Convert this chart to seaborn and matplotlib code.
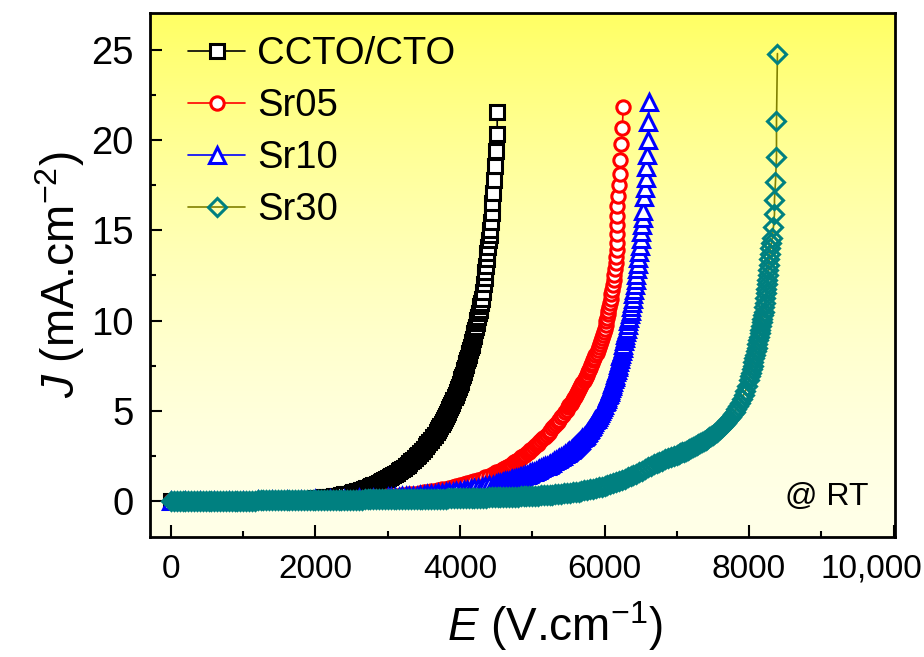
import numpy as np
import pandas as pd
import matplotlib
matplotlib.use("Agg")
import matplotlib.pyplot as plt
import seaborn as sns
from matplotlib.transforms import ScaledTranslation

# ---------------- data (E in V/cm, J in mA/cm^2) ----------------
labels = ["CCTO/CTO", "Sr05", "Sr10", "Sr30"]

ccto_EJ = [
    (0, 0.00), (200, 0.01), (400, 0.01), (600, 0.02), (800, 0.02), (1000, 0.03), (1200, 0.04),
    (1400, 0.06), (1600, 0.08), (1800, 0.11), (1900, 0.13),
    (2000, 0.15), (2050, 0.17), (2100, 0.19), (2150, 0.21), (2200, 0.24), (2250, 0.27),
    (2300, 0.30), (2350, 0.34), (2400, 0.38), (2450, 0.41),
    (2500, 0.45), (2525, 0.48), (2550, 0.51), (2575, 0.54), (2600, 0.57), (2625, 0.60),
    (2650, 0.63), (2675, 0.66), (2700, 0.70), (2725, 0.74), (2750, 0.78), (2775, 0.82),
    (2800, 0.86), (2825, 0.90), (2850, 0.95), (2875, 1.00), (2900, 1.05), (2925, 1.10),
    (2950, 1.16), (2975, 1.21), (3000, 1.27), (3025, 1.32), (3050, 1.38), (3075, 1.44),
    (3100, 1.50), (3125, 1.57), (3150, 1.64), (3175, 1.71), (3200, 1.78), (3225, 1.85),
    (3250, 1.93), (3275, 2.01), (3300, 2.10), (3325, 2.19), (3350, 2.28), (3375, 2.37),
    (3400, 2.47), (3425, 2.57), (3450, 2.67), (3475, 2.78), (3500, 2.90), (3525, 3.02),
    (3550, 3.14), (3575, 3.27), (3600, 3.40), (3625, 3.53), (3650, 3.66), (3675, 3.80),
    (3700, 3.95), (3715, 4.05), (3730, 4.15), (3745, 4.25), (3760, 4.36), (3775, 4.47),
    (3790, 4.58), (3805, 4.69), (3820, 4.82), (3835, 4.94), (3850, 5.07), (3865, 5.20),
    (3880, 5.32), (3895, 5.45), (3910, 5.59), (3925, 5.74), (3940, 5.88), (3955, 6.03),
    (3970, 6.18), (3985, 6.34), (4000, 6.50), (4010, 6.62), (4020, 6.74), (4030, 6.87),
    (4040, 7.00), (4050, 7.12), (4060, 7.25), (4070, 7.38), (4080, 7.52), (4090, 7.66),
    (4100, 7.80), (4110, 7.94), (4120, 8.08), (4130, 8.22), (4140, 8.37), (4150, 8.52),
    (4160, 8.67), (4170, 8.82), (4180, 8.98), (4190, 9.14), (4200, 9.30), (4210, 9.48),
    (4220, 9.66), (4230, 9.84), (4240, 10.02), (4250, 10.20), (4260, 10.40), (4270, 10.60),
    (4280, 10.80), (4290, 11.00), (4300, 11.20), (4315, 11.60), (4330, 12.00), (4340, 12.35),
    (4350, 12.70), (4360, 13.05), (4370, 13.40), (4380, 13.75), (4390, 14.10), (4400, 14.45),
    (4410, 14.75), (4418, 15.00), (4432, 15.47), (4446, 15.97), (4446, 16.50), (4460, 17.07),
    (4474, 17.80), (4487, 18.57), (4501, 19.40), (4515, 20.34), (4515, 21.56),
]

sr05_EJ = [
    (0, 0.00), (200, 0.00), (400, 0.01), (600, 0.01), (800, 0.02), (1000, 0.02), (1200, 0.03),
    (1400, 0.04), (1600, 0.05), (1800, 0.06), (2000, 0.08), (2200, 0.10), (2400, 0.12),
    (2600, 0.15), (2800, 0.19),
    (3000, 0.25), (3050, 0.26), (3100, 0.28), (3150, 0.30), (3200, 0.32), (3250, 0.34),
    (3300, 0.36), (3350, 0.38), (3400, 0.41), (3450, 0.44), (3500, 0.47), (3550, 0.50),
    (3600, 0.53), (3650, 0.56), (3700, 0.60), (3750, 0.64), (3800, 0.68), (3850, 0.72),
    (3900, 0.77), (3950, 0.82), (4000, 0.87), (4050, 0.92), (4100, 0.98), (4150, 1.04),
    (4200, 1.10), (4250, 1.17), (4300, 1.24), (4350, 1.32), (4400, 1.40), (4450, 1.49),
    (4500, 1.58), (4525, 1.63), (4550, 1.68), (4575, 1.73), (4600, 1.78), (4625, 1.83),
    (4650, 1.89), (4675, 1.95), (4700, 2.01), (4725, 2.07), (4750, 2.14), (4775, 2.21),
    (4800, 2.28), (4825, 2.35), (4850, 2.42), (4875, 2.49), (4900, 2.57), (4925, 2.65),
    (4950, 2.73), (4975, 2.81), (5000, 2.90), (5025, 2.99), (5050, 3.08), (5075, 3.17),
    (5100, 3.27), (5125, 3.37), (5150, 3.47), (5175, 3.57), (5200, 3.68), (5225, 3.79),
    (5250, 3.90), (5275, 4.02), (5300, 4.14), (5325, 4.26), (5350, 4.38), (5375, 4.51),
    (5400, 4.64), (5425, 4.78), (5450, 4.92), (5475, 5.06), (5500, 5.21), (5515, 5.30),
    (5530, 5.39), (5545, 5.49), (5560, 5.58), (5575, 5.68), (5590, 5.78), (5605, 5.88),
    (5620, 5.99), (5635, 6.09), (5650, 6.20), (5665, 6.31), (5680, 6.42), (5695, 6.53),
    (5710, 6.65), (5725, 6.76), (5740, 6.88), (5755, 7.00), (5770, 7.13), (5785, 7.25),
    (5800, 7.38), (5815, 7.51), (5830, 7.65), (5845, 7.79), (5860, 7.93), (5875, 8.07),
    (5890, 8.22), (5905, 8.37), (5920, 8.53), (5935, 8.69), (5950, 8.85), (5965, 9.02),
    (5980, 9.20), (5995, 9.38), (6005, 9.55), (6015, 9.75), (6025, 9.95), (6035, 10.15),
    (6045, 10.35), (6055, 10.55), (6065, 10.75), (6075, 10.95), (6085, 11.20), (6095, 11.45),
    (6105, 11.70), (6115, 11.95), (6125, 12.25), (6135, 12.55), (6145, 12.85), (6155, 13.20),
    (6163, 13.55), (6170, 13.90), (6177, 14.30), (6177, 14.80), (6177, 15.30), (6177, 15.80),
    (6177, 16.35), (6191, 16.90), (6205, 17.50), (6218, 18.10), (6218, 18.90), (6232, 19.80),
    (6246, 20.70), (6260, 21.85),
]

sr10_EJ = [
    (0, 0.00), (200, 0.00), (400, 0.01), (600, 0.01), (800, 0.02), (1000, 0.02), (1200, 0.03),
    (1400, 0.04), (1600, 0.05), (1800, 0.06), (2000, 0.08), (2200, 0.10), (2400, 0.12),
    (2600, 0.14), (2800, 0.17),
    (3000, 0.20), (3050, 0.21), (3100, 0.22), (3150, 0.23), (3200, 0.25), (3250, 0.26),
    (3300, 0.27), (3350, 0.29), (3400, 0.30), (3450, 0.32), (3500, 0.34), (3550, 0.36),
    (3600, 0.38), (3650, 0.40), (3700, 0.42), (3750, 0.44), (3800, 0.47), (3850, 0.49),
    (3900, 0.52), (3950, 0.54), (4000, 0.57), (4050, 0.60), (4100, 0.63), (4150, 0.66),
    (4200, 0.70), (4250, 0.73), (4300, 0.77), (4350, 0.81), (4400, 0.86), (4450, 0.90),
    (4500, 0.95), (4525, 0.97), (4550, 1.00), (4575, 1.02), (4600, 1.05), (4625, 1.08),
    (4650, 1.10), (4675, 1.13), (4700, 1.16), (4725, 1.19), (4750, 1.22), (4775, 1.25),
    (4800, 1.28), (4825, 1.31), (4850, 1.35), (4875, 1.38), (4900, 1.42), (4925, 1.46),
    (4950, 1.50), (4975, 1.54), (5000, 1.58), (5025, 1.62), (5050, 1.67), (5075, 1.71),
    (5100, 1.76), (5125, 1.81), (5150, 1.86), (5175, 1.91), (5200, 1.96), (5225, 2.01),
    (5250, 2.07), (5275, 2.13), (5300, 2.19), (5325, 2.25), (5350, 2.31), (5375, 2.37),
    (5400, 2.44), (5425, 2.51), (5450, 2.58), (5475, 2.65), (5500, 2.73), (5515, 2.78),
    (5530, 2.82), (5545, 2.87), (5560, 2.92), (5575, 2.97), (5590, 3.03), (5605, 3.09),
    (5620, 3.15), (5635, 3.21), (5650, 3.27), (5665, 3.33), (5680, 3.40), (5695, 3.47),
    (5710, 3.54), (5725, 3.61), (5740, 3.68), (5755, 3.76), (5770, 3.84), (5785, 3.92),
    (5800, 4.00), (5815, 4.09), (5830, 4.18), (5845, 4.27), (5860, 4.36), (5875, 4.46),
    (5890, 4.56), (5905, 4.66), (5920, 4.76), (5935, 4.87), (5950, 4.98), (5965, 5.10),
    (5980, 5.22), (5995, 5.34), (6010, 5.47), (6020, 5.56), (6030, 5.66), (6040, 5.75),
    (6050, 5.85), (6060, 5.95), (6070, 6.05), (6080, 6.16), (6090, 6.27), (6100, 6.38),
    (6110, 6.50), (6120, 6.62), (6130, 6.74), (6140, 6.87), (6150, 7.00), (6160, 7.13),
    (6170, 7.27), (6180, 7.41), (6190, 7.55), (6200, 7.70), (6210, 7.85), (6220, 8.01),
    (6230, 8.17), (6240, 8.33), (6250, 8.50), (6260, 8.67), (6270, 8.84), (6280, 9.01),
    (6290, 9.18), (6300, 9.35), (6310, 9.55), (6320, 9.75), (6330, 9.95), (6340, 10.15),
    (6350, 10.35), (6360, 10.55), (6370, 10.75), (6380, 10.95), (6390, 11.20), (6400, 11.45),
    (6410, 11.70), (6420, 11.95), (6430, 12.25), (6440, 12.55), (6450, 12.85), (6460, 13.15),
    (6470, 13.45), (6480, 13.80), (6490, 14.15), (6500, 14.50), (6510, 14.90), (6520, 15.30),
    (6530, 15.70), (6538, 16.10), (6552, 16.85), (6566, 17.35), (6580, 17.90), (6580, 18.50),
    (6593, 19.20), (6607, 20.00), (6607, 21.00), (6620, 22.10),
]

sr30_EJ = [
    (0, 0.00), (40, 0.00), (80, 0.00), (120, 0.00), (160, 0.00), (200, 0.00), (240, 0.00),
    (280, 0.00), (320, 0.00), (360, 0.00), (400, 0.01), (440, 0.01), (480, 0.01), (520, 0.01),
    (560, 0.01), (600, 0.01), (640, 0.01), (680, 0.01), (720, 0.01), (760, 0.01), (800, 0.02),
    (840, 0.02), (880, 0.02), (920, 0.02), (960, 0.02), (1000, 0.02), (1040, 0.02), (1080, 0.02),
    (1120, 0.02), (1160, 0.02), (1200, 0.03), (1240, 0.03), (1280, 0.03), (1320, 0.03),
    (1360, 0.03), (1400, 0.03), (1440, 0.03), (1480, 0.03), (1520, 0.03), (1560, 0.03),
    (1600, 0.04), (1640, 0.04), (1680, 0.04), (1720, 0.04), (1760, 0.04), (1800, 0.04),
    (1840, 0.04), (1880, 0.04), (1920, 0.04), (1960, 0.04), (2000, 0.05), (2040, 0.05),
    (2080, 0.05), (2120, 0.05), (2160, 0.05), (2200, 0.06), (2240, 0.06), (2280, 0.06),
    (2320, 0.06), (2360, 0.06), (2400, 0.06), (2440, 0.07), (2480, 0.07), (2520, 0.07),
    (2560, 0.07), (2600, 0.07), (2640, 0.07), (2680, 0.08), (2720, 0.08), (2760, 0.08),
    (2800, 0.08), (2840, 0.08), (2880, 0.08), (2920, 0.09), (2960, 0.09), (3000, 0.09),
    (3040, 0.09), (3080, 0.09), (3120, 0.10), (3160, 0.10), (3200, 0.10), (3240, 0.10),
    (3280, 0.10), (3320, 0.11), (3360, 0.11), (3400, 0.11), (3440, 0.11), (3480, 0.11),
    (3520, 0.12), (3560, 0.12), (3600, 0.12), (3640, 0.12), (3680, 0.13), (3720, 0.13),
    (3760, 0.13), (3800, 0.13), (3840, 0.14), (3880, 0.14), (3920, 0.14), (3960, 0.15),
    (4000, 0.15), (4040, 0.15), (4080, 0.16), (4120, 0.16), (4160, 0.16), (4200, 0.17),
    (4240, 0.17), (4280, 0.17), (4320, 0.18), (4360, 0.18), (4400, 0.19), (4440, 0.19),
    (4480, 0.20), (4520, 0.20), (4560, 0.21), (4600, 0.21), (4640, 0.22), (4680, 0.22),
    (4720, 0.23), (4760, 0.23), (4800, 0.24), (4840, 0.25), (4880, 0.25), (4920, 0.26),
    (4960, 0.27), (5000, 0.28), (5040, 0.29), (5080, 0.30), (5120, 0.31), (5160, 0.32),
    (5200, 0.33), (5240, 0.34), (5280, 0.35), (5320, 0.37), (5360, 0.38), (5400, 0.40),
    (5440, 0.42), (5480, 0.44), (5520, 0.46), (5560, 0.48), (5600, 0.50), (5640, 0.52),
    (5680, 0.55), (5720, 0.58), (5760, 0.61), (5800, 0.64), (5840, 0.67), (5880, 0.71),
    (5920, 0.75), (5960, 0.79), (6000, 0.83), (6040, 0.88), (6080, 0.93), (6120, 0.99),
    (6160, 1.05), (6200, 1.11), (6240, 1.17), (6280, 1.24), (6320, 1.30), (6360, 1.37),
    (6400, 1.44), (6440, 1.51), (6480, 1.59), (6520, 1.67), (6560, 1.76), (6600, 1.86),
    (6640, 1.94), (6680, 2.02), (6720, 2.10), (6760, 2.17), (6800, 2.24), (6840, 2.31),
    (6880, 2.38), (6920, 2.44), (6960, 2.51), (7000, 2.57), (7025, 2.61), (7050, 2.65),
    (7075, 2.70), (7100, 2.74), (7125, 2.79), (7150, 2.83), (7175, 2.88), (7200, 2.93),
    (7225, 2.98), (7250, 3.03), (7275, 3.08), (7300, 3.14), (7325, 3.20), (7350, 3.26),
    (7375, 3.32), (7400, 3.38), (7425, 3.45), (7450, 3.52), (7475, 3.59), (7500, 3.67),
    (7525, 3.75), (7550, 3.83), (7575, 3.91), (7600, 4.00), (7625, 4.10), (7650, 4.20),
    (7675, 4.31), (7700, 4.42), (7725, 4.54), (7750, 4.67), (7775, 4.81), (7800, 4.95),
    (7825, 5.11), (7850, 5.27), (7875, 5.45), (7900, 5.65), (7925, 5.87), (7950, 6.10),
    (7975, 6.38), (8000, 6.70), (8012, 6.90), (8024, 7.10), (8036, 7.30), (8048, 7.50),
    (8060, 7.70), (8072, 7.90), (8084, 8.10), (8095, 8.30), (8106, 8.50), (8117, 8.70),
    (8128, 8.90), (8138, 9.10), (8148, 9.30), (8158, 9.50), (8167, 9.70), (8176, 9.90),
    (8185, 10.10), (8193, 10.30), (8201, 10.50), (8209, 10.75), (8217, 11.00), (8225, 11.25),
    (8232, 11.50), (8239, 11.75), (8246, 12.00), (8253, 12.25), (8260, 12.50), (8267, 12.80),
    (8274, 13.10), (8281, 13.40), (8288, 13.70), (8296, 14.00), (8310, 14.30), (8324, 14.60),
    (8338, 15.20), (8352, 15.90), (8352, 16.70), (8366, 17.70), (8380, 19.07), (8380, 21.06),
    (8393, 24.80),
]

x_ticks = [0, 2000, 4000, 6000, 8000, 10000]
x_tick_labels = ["0", "2000", "4000", "6000", "8000", "10,000"]
x_minor = [1000, 3000, 5000, 7000, 9000]
y_ticks = [0, 5, 10, 15, 20, 25]
y_minor = [2.5, 7.5, 12.5, 17.5, 22.5]

# ---------------- style ----------------
sns.set_theme(style="ticks")
plt.rcParams["font.family"] = ["Liberation Sans", "DejaVu Sans"]
plt.rcParams["mathtext.fontset"] = "custom"
plt.rcParams["mathtext.rm"] = "Liberation Sans"
plt.rcParams["mathtext.it"] = "Liberation Sans:italic"

fig = plt.figure(figsize=(9.24, 6.57), dpi=100)
fig.patch.set_facecolor("white")
ax = fig.add_axes([150 / 924, 1 - 537 / 657, 745 / 924, 524 / 657])

# background gradient (pale at bottom, yellow at top)
f = np.linspace(0, 1, 256)[:, None]          # 0 bottom -> 1 top
blue = (232 - 132 * (f ** 1.6)) / 255.0
grad = np.dstack([np.ones_like(f), np.ones_like(f), blue])
ax.imshow(grad, extent=[0, 1, 0, 1], transform=ax.transAxes, origin="lower",
          aspect="auto", zorder=0, interpolation="bilinear")

series = [
    (ccto_EJ, labels[0], "s", "black", "black", "white", 9.4),
    (sr05_EJ, labels[1], "o", "red", "red", "white", 9.6),
    (sr10_EJ, labels[2], "^", "blue", "blue", "white", 11.0),
    (sr30_EJ, labels[3], "D", "#808000", "#008080", "none", 8.8),
]
for i, (pts, lab, mk, lc, ec, fc, ms) in enumerate(series):
    df = pd.DataFrame(pts, columns=["E", "J"])
    sns.lineplot(data=df, x="E", y="J", ax=ax, estimator=None, sort=False,
                 color=lc, linewidth=1.2, marker=mk, markersize=ms,
                 markeredgecolor=ec, markerfacecolor=fc, markeredgewidth=2.2,
                 label=lab, zorder=3 + i)

ax.set_xlim(-290, 10020)
ax.set_ylim(-2.0, 27.05)
ax.set_xticks(x_ticks)
ax.set_xticklabels(x_tick_labels)
ax.set_yticks(y_ticks)
ax.set_xticks(x_minor, minor=True)
ax.set_yticks(y_minor, minor=True)
ax.tick_params(axis="both", which="major", direction="in", length=8.5, width=1.5,
               color="black", labelcolor="black")
ax.tick_params(axis="both", which="minor", direction="in", length=4.3, width=1.5,
               color="black")
ax.tick_params(axis="x", which="both", pad=12, top=False, labelsize=24)
ax.tick_params(axis="y", which="both", pad=12, right=False, labelsize=27.5)
for s in ax.spines.values():
    s.set_visible(True)
    s.set_linewidth(2.0)
    s.set_color("black")

# shift the last x tick label to the left so it stays inside the figure
lbl = ax.get_xticklabels()[-1]
lbl.set_transform(lbl.get_transform() + ScaledTranslation(-22 / 100, 0, fig.dpi_scale_trans))

ax.set_xlabel(r"$\mathit{E}$ (V.cm$^{-1}$)", fontsize=33, color="black")
ax.xaxis.set_label_coords(0.544, -0.118)
ax.set_ylabel(r"$\mathit{J}$ (mA.cm$^{-2}$)", fontsize=33, color="black")
ax.yaxis.set_label_coords(-0.085, 0.5)

ax.text(0.964, 0.076, "@ RT", transform=ax.transAxes, ha="right", va="center",
        fontsize=23, color="black", zorder=10)

leg = ax.legend(loc="upper left", bbox_to_anchor=(0.051, 0.956), frameon=False,
                fontsize=27.5, handlelength=1.5, handletextpad=0.3, labelspacing=0.42,
                borderpad=0, borderaxespad=0, numpoints=1)
for t in leg.get_texts():
    t.set_color("black")

fig.savefig("out.png", dpi=100)
